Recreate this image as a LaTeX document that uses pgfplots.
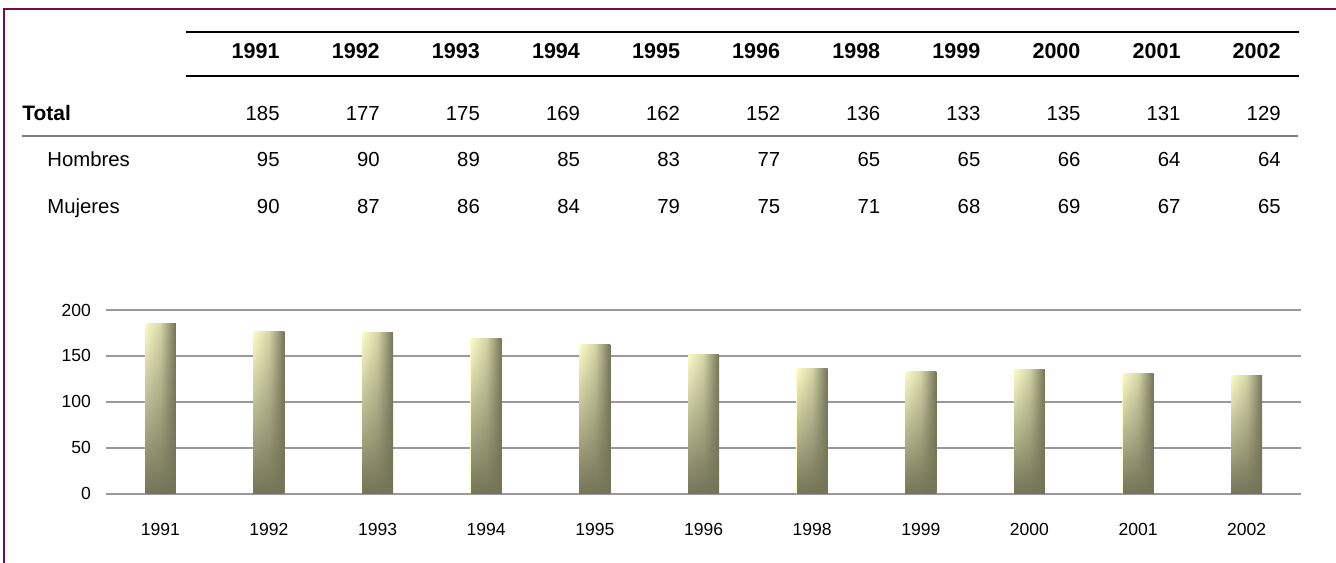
\documentclass[border=0pt]{standalone}
\usepackage{fontspec}
\setmainfont{Liberation Sans}
\usepackage{pgfplots}
\pgfplotsset{compat=1.18}
\usetikzlibrary{fadings}
\definecolor{border}{RGB}{122,12,66}
\definecolor{barlight}{RGB}{252,252,200}
\definecolor{bardark}{RGB}{116,116,88}
\definecolor{gridgray}{RGB}{153,153,153}
\tikzfading[name=barfade, top color=transparent!100, middle color=transparent!72, bottom color=transparent!0]
\newcommand\shadedbar[2]{%
  \addplot[ybar, bar shift=0pt, bar width=15.5bp, draw=none, left color=barlight, right color=bardark, middle color=barlight!72!bardark]
    coordinates {(#1,#2)};
  \addplot[ybar, bar shift=0pt, bar width=15.5bp, draw=none, fill=bardark, path fading=barfade]
    coordinates {(#1,#2)};
}
\begin{document}
\begin{tikzpicture}[x=0.5bp,y=-0.5bp]
\path[use as bounding box] (0,0) rectangle (1336,563);
% frame
\draw[border,line width=0.8bp] (4,563) -- (4,9) -- (1336,9);
% table rules
\draw[black,line width=0.75bp] (186,32) -- (1299,32);
\draw[black,line width=0.75bp] (186,76) -- (1299,76);
\draw[gray,line width=0.6bp] (22,136) -- (1298,136);
% table text
\begin{scope}[every node/.style={inner sep=0pt,anchor=base east,font=\fontsize{10.2}{12}\selectfont}]
\foreach \y [count=\i from 0] in {1991,1992,1993,1994,1995,1996,1998,1999,2000,2001,2002}
  \node[font=\fontsize{10.8}{12}\selectfont\bfseries] at ({280+100.1*\i},59) {\y};
\foreach \v [count=\i from 0] in {185,177,175,169,162,152,136,133,135,131,129}
  \node at ({280+100.1*\i},121) {\v};
\foreach \v [count=\i from 0] in {95,90,89,85,83,77,65,65,66,64,64}
  \node at ({280+100.1*\i},167) {\v};
\foreach \v [count=\i from 0] in {90,87,86,84,79,75,71,68,69,67,65}
  \node at ({280+100.1*\i},213) {\v};
\node[anchor=base west,font=\fontsize{10.5}{12}\selectfont\bfseries] at (22,121) {Total};
\node[anchor=base west] at (47,167) {Hombres};
\node[anchor=base west] at (47,213) {Mujeres};
\end{scope}
\begin{axis}[
  at={(53bp,-246.85bp)}, anchor=south west,
  scale only axis, width=597.5bp, height=91.85bp,
  xmin=-0.5, xmax=10.5, ymin=0, ymax=200,
  axis line style={draw=none},
  major tick style={draw=none},
  ymajorgrids, grid style={gridgray,line width=0.8bp},
  ytick={0,50,100,150,200},
  xtick={0,...,10},
  xticklabels={1991,1992,1993,1994,1995,1996,1998,1999,2000,2001,2002},
  /pgf/number format/assume math mode=true,
  ticklabel style={font=\fontsize{8.8}{10}\selectfont},
  xticklabel style={yshift=-11bp},
  yticklabel style={xshift=-4bp},
]
\shadedbar{0}{185}
\shadedbar{1}{177}
\shadedbar{2}{175}
\shadedbar{3}{169}
\shadedbar{4}{162}
\shadedbar{5}{152}
\shadedbar{6}{136}
\shadedbar{7}{133}
\shadedbar{8}{135}
\shadedbar{9}{131}
\shadedbar{10}{129}
\end{axis}
\end{tikzpicture}
\end{document}
